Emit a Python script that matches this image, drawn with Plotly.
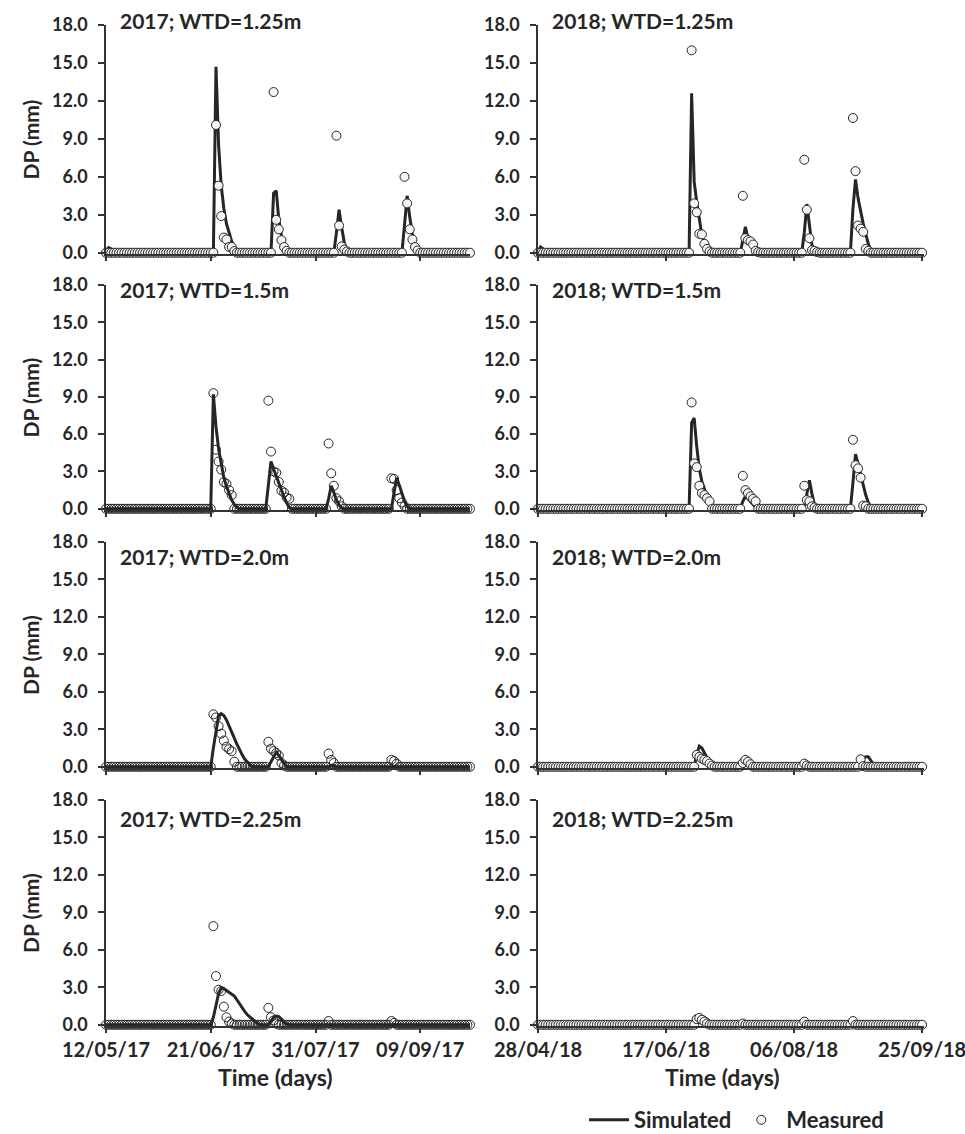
import pandas as pd
import plotly.graph_objects as go

# ---------------------------------------------------------------------------
# Data: daily deep percolation (DP, mm) under four water-table depths
# ---------------------------------------------------------------------------
start_2017, end_2017 = "2017-05-12", "2017-09-28"
start_2018, end_2018 = "2018-04-28", "2018-09-25"

ticks_2017 = ["12/05/17", "21/06/17", "31/07/17", "09/09/17"]
ticks_2018 = ["28/04/18", "17/06/18", "06/08/18", "25/09/18"]
y_ticks = [0, 3, 6, 9, 12, 15, 18]

wtd_levels = ["1.25", "1.5", "2.0", "2.25"]

# Runs of non-zero days: (first date, consecutive daily values in mm); all other days are 0
sim_2017_125 = [
    ("2017-05-12", [0.15, 0.4, 0.3, 0.1]),
    ("2017-06-23", [14.7, 8.5, 5.3, 3.5, 2.3, 1.5, 0.9, 0.5, 0.2]),
    ("2017-07-15", [4.7, 4.9, 2.6, 1.4, 0.6, 0.2]),
    ("2017-08-08", [1.6, 3.4, 2.0, 0.8, 0.15]),
    ("2017-09-03", [2.2, 4.5, 2.8, 1.5, 0.7, 0.25]),
]
obs_2017_125 = [
    ("2017-06-23", [10.1, 5.3, 2.9, 1.2, 1.05, 0.45, 0.45, 0.13]),
    ("2017-07-15", [12.7, 2.6, 1.85, 1.0, 0.45, 0.15]),
    ("2017-08-08", [9.25, 2.15, 0.5, 0.25, 0.1]),
    ("2017-09-03", [6.0, 3.9, 1.85, 1.05, 0.45, 0.18]),
]
sim_2018_125 = [
    ("2018-04-28", [0.1, 0.45, 0.3, 0.1]),
    ("2018-06-27", [12.6, 5.6, 4.0, 2.5, 1.4, 0.75, 0.3, 0.1]),
    ("2018-07-17", [1.0, 2.05, 1.1, 0.85, 0.55, 0.2, 0.05]),
    ("2018-08-10", [1.6, 3.85, 2.2, 0.6, 0.1]),
    ("2018-08-29", [3.5, 5.8, 4.3, 3.2, 2.3, 1.5, 0.7, 0.2]),
]
obs_2018_125 = [
    ("2018-06-27", [16.0, 3.9, 3.2, 1.5, 1.45, 0.7, 0.3, 0.1]),
    ("2018-07-17", [4.5, 1.15, 1.0, 0.9, 0.65, 0.15, 0.05]),
    ("2018-08-10", [7.35, 3.4, 1.15, 0.2, 0.15, 0.05]),
    ("2018-08-29", [10.65, 6.45, 2.15, 1.9, 1.65, 0.3, 0.15]),
]
sim_2017_150 = [
    ("2017-06-22", [9.2, 6.6, 4.8, 3.5, 2.5, 1.8, 1.2, 0.7, 0.35, 0.1]),
    ("2017-07-13", [1.9, 3.8, 3.2, 2.6, 2.0, 1.5, 0.95, 0.45, 0.1]),
    ("2017-08-05", [0.8, 1.85, 1.3, 0.7, 0.3, 0.05]),
    ("2017-08-30", [1.3, 2.5, 1.9, 1.2, 0.6, 0.2]),
]
obs_2017_150 = [
    ("2017-06-22", [9.3, 4.75, 3.8, 3.15, 2.15, 2.0, 1.5, 1.1]),
    ("2017-07-13", [8.7, 4.6, 3.0, 2.9, 2.15, 1.45, 1.3, 0.9, 0.8]),
    ("2017-08-05", [5.25, 2.85, 1.85, 0.85, 0.6, 0.2]),
    ("2017-08-29", [2.45, 2.4, 1.5, 0.85, 0.5, 0.2]),
]
sim_2018_150 = [
    ("2018-06-27", [6.9, 7.3, 5.0, 3.2, 2.2, 1.5, 1.0, 0.55, 0.15]),
    ("2018-07-17", [0.6, 1.0, 0.8, 0.6, 0.35, 0.1]),
    ("2018-08-10", [0.1, 1.3, 2.3, 1.2, 0.3]),
    ("2018-08-29", [2.1, 4.4, 3.6, 2.7, 1.8, 1.1, 0.5, 0.15]),
]
obs_2018_150 = [
    ("2018-06-27", [8.55, 3.65, 3.35, 1.85, 1.25, 1.1, 0.85, 0.6]),
    ("2018-07-17", [2.65, 1.5, 1.25, 1.0, 0.8, 0.6]),
    ("2018-08-10", [1.85, 0.7, 0.6, 0.2, 0.1]),
    ("2018-08-29", [5.55, 3.5, 3.25, 2.5, 0.25, 0.2]),
]
sim_2017_200 = [
    ("2017-06-22", [1.5, 3.0, 4.1, 4.25, 4.1, 3.75, 3.3, 2.8, 2.3, 1.8, 1.35, 0.95, 0.6, 0.35, 0.15]),
    ("2017-07-14", [0.4, 0.8, 1.15, 0.9, 0.55, 0.25]),
    ("2017-08-06", [0.1, 0.1]),
]
obs_2017_200 = [
    ("2017-06-22", [4.2, 3.95, 3.25, 2.65, 2.1, 1.6, 1.4, 1.25, 0.4]),
    ("2017-07-13", [2.0, 1.45, 1.25, 1.1, 0.9, 0.3, 0.1]),
    ("2017-08-05", [1.05, 0.55, 0.3]),
    ("2017-08-29", [0.55, 0.45, 0.25]),
]
sim_2018_200 = [
    ("2018-06-29", [1.0, 1.65, 1.5, 1.1, 0.7, 0.35, 0.1]),
    ("2018-07-18", [0.3, 0.4, 0.3, 0.1]),
    ("2018-08-10", [0.1, 0.1]),
    ("2018-09-01", [0.3, 0.7, 0.8, 0.8, 0.5, 0.2, 0.05]),
]
obs_2018_200 = [
    ("2018-06-29", [0.95, 0.8, 0.65, 0.55, 0.45, 0.25, 0.1]),
    ("2018-07-17", [0.3, 0.55, 0.4, 0.2]),
    ("2018-08-10", [0.25, 0.1]),
    ("2018-09-01", [0.6, 0.05]),
]
sim_2017_225 = [
    ("2017-06-22", [0.6, 1.6, 2.5, 2.95, 2.9, 2.75, 2.6, 2.45, 2.3, 2.0, 1.65, 1.35,
                    1.05, 0.8, 0.6, 0.4, 0.2, 0.07]),
    ("2017-07-14", [0.3, 0.6, 0.7, 0.65, 0.45, 0.2, 0.05]),
]
obs_2017_225 = [
    ("2017-06-22", [7.9, 3.9, 2.8, 2.7, 1.45, 0.6, 0.25, 0.1]),
    ("2017-07-13", [1.35, 0.6, 0.35, 0.1]),
    ("2017-08-05", [0.3]),
    ("2017-08-29", [0.3, 0.15]),
]
sim_2018_225 = [
    ("2018-06-29", [0.2, 0.45, 0.55, 0.6, 0.45, 0.25, 0.1]),
]
obs_2018_225 = [
    ("2018-06-29", [0.45, 0.55, 0.4, 0.25, 0.1]),
    ("2018-07-17", [0.1]),
    ("2018-08-10", [0.25]),
    ("2018-08-29", [0.3]),
]


def daily(start, end, runs):
    """Expand runs of non-zero days onto a full daily series."""
    s = pd.Series(0.0, index=pd.date_range(start, end, freq="D"))
    for first, vals in runs:
        s.loc[pd.date_range(first, periods=len(vals), freq="D")] = vals
    return s


# ---------------------------------------------------------------------------
# Figure geometry (pixels on a 965 x 1134 page)
# ---------------------------------------------------------------------------
W, H = 965, 1134
INK = "#262626"
AXIS = "#333333"
FONT = "Lato"

col_px = [(106, 470), (538, 924)]
row_px = [(25, 254), (285, 510), (542, 768), (800, 1026)]
title_y = [21, 290, 556, 818]

years = [
    dict(year="2017", start=start_2017, end=end_2017, xend=pd.Timestamp(end_2017),
         ticks=ticks_2017),
    dict(year="2018", start=start_2018, end=end_2018,
         xend=pd.Timestamp(end_2018) + pd.Timedelta(hours=18), ticks=ticks_2018),
]
series = {
    ("2017", 0): (sim_2017_125, obs_2017_125),
    ("2018", 0): (sim_2018_125, obs_2018_125),
    ("2017", 1): (sim_2017_150, obs_2017_150),
    ("2018", 1): (sim_2018_150, obs_2018_150),
    ("2017", 2): (sim_2017_200, obs_2017_200),
    ("2018", 2): (sim_2018_200, obs_2018_200),
    ("2017", 3): (sim_2017_225, obs_2017_225),
    ("2018", 3): (sim_2018_225, obs_2018_225),
}

fig = go.Figure()
annotations = []
layout_axes = {}

k = 0
for r in range(4):
    for c, yr in enumerate(years):
        k += 1
        xa = "x" if k == 1 else f"x{k}"
        ya = "y" if k == 1 else f"y{k}"
        sim_runs, obs_runs = series[(yr["year"], r)]
        sim = daily(yr["start"], yr["end"], sim_runs)
        obs = daily(yr["start"], yr["end"], obs_runs)

        # open markers in the deeper 2017 plots, light-filled elsewhere
        fill = "rgba(0,0,0,0)" if (yr["year"] == "2017" and r > 0) else "#f4f4f4"

        fig.add_trace(go.Scatter(
            x=sim.index, y=sim.values, mode="lines", name="Simulated",
            line=dict(color=INK, width=3), xaxis=xa, yaxis=ya,
            showlegend=(k == 1), legendrank=1))
        fig.add_trace(go.Scatter(
            x=obs.index, y=obs.values, mode="markers", name="Measured",
            marker=dict(symbol="circle", size=9, color=fill,
                        line=dict(color=INK, width=1)),
            cliponaxis=False, xaxis=xa, yaxis=ya,
            showlegend=(k == 1), legendrank=2))

        x0, x1 = col_px[c]
        top, bot = row_px[r]
        tick_dates = pd.to_datetime(yr["ticks"], format="%d/%m/%y")
        layout_axes["xaxis" if k == 1 else f"xaxis{k}"] = dict(
            domain=[x0 / W, x1 / W], anchor=ya, automargin=False,
            range=[pd.Timestamp(yr["start"]), yr["xend"]],
            tickvals=tick_dates, ticktext=yr["ticks"],
            showticklabels=(r == 3), ticklabeloverflow="allow",
            ticks="outside", ticklen=5, tickwidth=1.5, tickcolor=AXIS,
            showline=True, linecolor=AXIS, linewidth=1.5,
            showgrid=False, zeroline=False,
            tickfont=dict(family=FONT, size=20, color=INK, weight="bold"),
        )
        layout_axes["yaxis" if k == 1 else f"yaxis{k}"] = dict(
            domain=[1 - bot / H, 1 - top / H], anchor=xa, automargin=False,
            range=[-0.1, 18], tickvals=y_ticks, tickformat=".1f",
            ticks="outside", ticklen=6, tickwidth=1.5, tickcolor=AXIS,
            ticklabelstandoff=7,
            showline=True, linecolor=AXIS, linewidth=1.5,
            showgrid=False, zeroline=False,
            tickfont=dict(family=FONT, size=18, color=INK, weight="bold"),
        )

        annotations.append(dict(
            text=f"{yr['year']}; WTD={wtd_levels[r]}m", xref="paper", yref="paper",
            x=(x0 + 12) / W, y=1 - title_y[r] / H, xanchor="left", yanchor="middle",
            showarrow=False, font=dict(family=FONT, size=21, color=INK, weight="bold")))

        if c == 0:
            annotations.append(dict(
                text="DP (mm)", xref="paper", yref="paper", textangle=-90,
                x=30 / W, y=1 - (top + bot) / 2 / H, xanchor="center", yanchor="middle",
                showarrow=False, font=dict(family=FONT, size=21, color=INK, weight="bold")))

for cx in (275, 722):
    annotations.append(dict(
        text="Time (days)", xref="paper", yref="paper",
        x=cx / W, y=1 - 1077 / H, xanchor="center", yanchor="middle",
        showarrow=False, font=dict(family=FONT, size=23, color=INK, weight="bold")))

fig.update_layout(
    width=W, height=H,
    margin=dict(l=0, r=0, t=0, b=0, autoexpand=False),
    paper_bgcolor="white", plot_bgcolor="white",
    font=dict(family=FONT, size=18, color=INK, weight="bold"),
    annotations=annotations,
    showlegend=True,
    legend=dict(orientation="h", x=584 / W, xanchor="left", y=1 - 1120 / H,
                yanchor="middle", bgcolor="rgba(0,0,0,0)", itemwidth=40,
                font=dict(family=FONT, size=22, color=INK, weight="bold")),
    **layout_axes,
)

fig.write_html("out.html")
